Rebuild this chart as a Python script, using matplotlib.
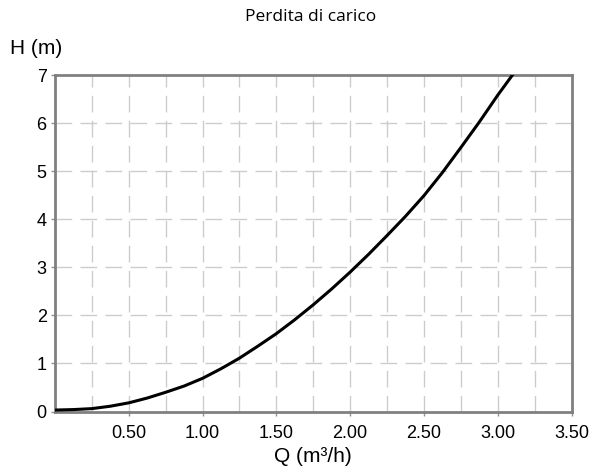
import matplotlib
matplotlib.use('Agg')
import matplotlib.pyplot as plt
import numpy as np

# Portata (m3/h) e perdita di carico (m)
portata = [0.0, 0.125, 0.25, 0.375, 0.5, 0.625, 0.75, 0.875, 1.0, 1.125, 1.25, 1.375,
           1.5, 1.625, 1.75, 1.875, 2.0, 2.125, 2.25, 2.375, 2.5, 2.625, 2.75, 2.875,
           3.0, 3.05, 3.1]
perdita = [0.03, 0.04, 0.06, 0.11, 0.18, 0.28, 0.40, 0.53, 0.69, 0.89, 1.11, 1.36,
           1.62, 1.91, 2.22, 2.55, 2.90, 3.27, 3.66, 4.06, 4.49, 4.97, 5.49, 6.02,
           6.58, 6.79, 7.0]

x_ticks = [0.5, 1.0, 1.5, 2.0, 2.5, 3.0, 3.5]
x_tick_labels = ['0.50', '1.00', '1.50', '2.00', '2.50', '3.00', '3.50']
y_ticks = [0, 1, 2, 3, 4, 5, 6, 7]

plt.rcParams['font.family'] = ['Liberation Sans', 'DejaVu Sans']

fig, ax = plt.subplots(figsize=(5.93, 4.72), dpi=100)
fig.subplots_adjust(left=55 / 593, right=571.5 / 593, top=1 - 75 / 472, bottom=1 - 411.5 / 472)

# Grid: vertical every 0.25, horizontal every 1
grid_color = '#cccccc'
for gx in np.arange(0.25, 3.5, 0.25):
    ax.axvline(gx, color=grid_color, lw=1, dashes=(12, 6), zorder=1)
for gy in range(1, 7):
    ax.axhline(gy, color=grid_color, lw=1, dashes=(12, 6), zorder=1)

ax.plot(portata, perdita, color='black', lw=2.2, zorder=3)

ax.set_xlim(0, 3.5)
ax.set_ylim(0, 7)
ax.set_xticks(x_ticks)
ax.set_xticklabels(x_tick_labels)
ax.set_yticks(y_ticks)
ax.tick_params(axis='both', labelsize=13, length=3, width=1, color='#909090', pad=3)
ax.tick_params(axis='x', pad=7)

for s in ax.spines.values():
    s.set_color('#808080')
    s.set_linewidth(2)

fig.text(311 / 593, 1 - 17 / 472, 'Perdita di carico', ha='center', va='center',
         fontsize=12.5, family=['Open Sans', 'DejaVu Sans'])
fig.text(10 / 593, 1 - 48 / 472, 'H (m)', ha='left', va='center', fontsize=15)
fig.text(313 / 593, 1 - 457 / 472, 'Q (m³/h)', ha='center', va='center', fontsize=15)

plt.savefig('out.png', dpi=100)
